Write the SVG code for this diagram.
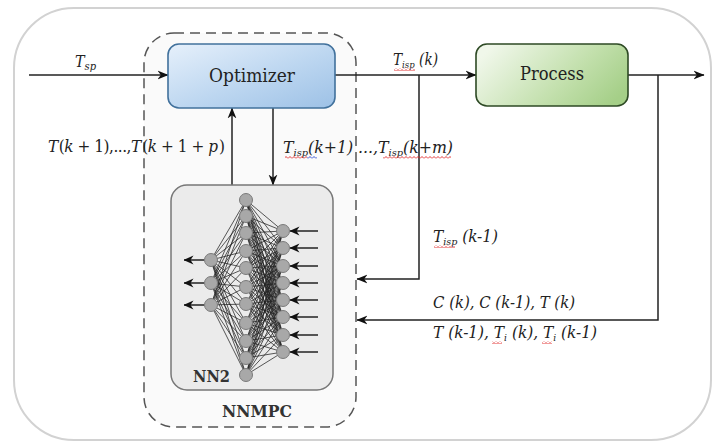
<svg xmlns="http://www.w3.org/2000/svg" width="713" height="443" viewBox="0 0 713 443">
  <defs>
    <linearGradient id="gOpt" x1="0" y1="0" x2="1" y2="1">
      <stop offset="0" stop-color="#e6f0fb"/>
      <stop offset="0.55" stop-color="#bcd6f0"/>
      <stop offset="1" stop-color="#9dc1e6"/>
    </linearGradient>
    <linearGradient id="gProc" x1="0" y1="0.3" x2="1" y2="0.7">
      <stop offset="0" stop-color="#f0f7ea"/>
      <stop offset="0.6" stop-color="#c3e0ad"/>
      <stop offset="1" stop-color="#a5cf88"/>
    </linearGradient>
    <!-- spell-check style wavy underline -->
    <pattern id="wavyRed" x="0" y="0" width="4" height="3" patternUnits="userSpaceOnUse">
      <path d="M0 2.5L2 0.5L4 2.5" fill="none" stroke="#e02020" stroke-width="0.9"/>
    </pattern>
    <pattern id="wavyBlue" x="0" y="0" width="4" height="3" patternUnits="userSpaceOnUse">
      <path d="M0 2.5L2 0.5L4 2.5" fill="none" stroke="#2040d0" stroke-width="0.9"/>
    </pattern>
    <marker id="ah" viewBox="0 0 10 10" refX="9.5" refY="5" markerWidth="11" markerHeight="11" orient="auto" markerUnits="userSpaceOnUse">
      <path d="M0,1 L10,5 L0,9 L3,5 z" fill="#111"/>
    </marker>
    <marker id="ahs" viewBox="0 0 10 10" refX="9.5" refY="5" markerWidth="10" markerHeight="10" orient="auto" markerUnits="userSpaceOnUse">
      <path d="M0,0.5 L10,5 L0,9.5 L3,5 z" fill="#111"/>
    </marker>
  </defs>
  <style>
    text { font-family: "DejaVu Serif Condensed", "DejaVu Serif", serif; fill: #222; }
    .it { font-style: italic; }
    .bold { font-weight: bold; fill: #333; }
    .wire { fill: none; stroke: #222; stroke-width: 1.5; }
    .nnline { fill: none; stroke: #222; stroke-width: 0.75; }
    .neuron { fill: #a8a8a8; stroke: #7a7a7a; stroke-width: 1; }
  </style>

  <rect x="0" y="0" width="713" height="443" fill="#ffffff"/>

  <!-- outer frame -->
  <rect id="frame" x="14" y="8" width="697" height="432" rx="60" ry="60" fill="#ffffff" stroke="#d2d2d2" stroke-width="2"/>

  <!-- NNMPC controller boundary -->
  <g id="nnmpc">
    <rect x="144" y="33" width="212" height="394" rx="30" ry="30" fill="#fafafa" stroke="#555" stroke-width="1.5" stroke-dasharray="10,6"/>
    <text class="bold" x="222" y="417" font-size="16" textLength="70" lengthAdjust="spacingAndGlyphs">NNMPC</text>
  </g>

  <!-- connectors -->
  <g id="connectors">
    <path class="wire" d="M29 75H168" marker-end="url(#ah)"/>
    <path class="wire" d="M335 75H476" marker-end="url(#ah)"/>
    <path class="wire" d="M628 75H704" marker-end="url(#ah)"/>
    <path class="wire" d="M419 75V279H357" marker-end="url(#ah)"/>
    <path class="wire" d="M658 75V320H357" marker-end="url(#ah)"/>
    <path class="wire" d="M232 185V108" marker-end="url(#ah)"/>
    <path class="wire" d="M273 108V185" marker-end="url(#ah)"/>
  </g>

  <!-- optimizer -->
  <g id="optimizer">
    <rect x="168" y="44" width="167" height="64" rx="11" ry="11" fill="url(#gOpt)" stroke="#41719c" stroke-width="1.6"/>
    <text x="209" y="82" font-size="19" textLength="86" lengthAdjust="spacingAndGlyphs">Optimizer</text>
  </g>

  <!-- process -->
  <g id="process">
    <rect x="476" y="44" width="152" height="62" rx="11" ry="11" fill="url(#gProc)" stroke="#2e4a25" stroke-width="1.6"/>
    <text x="520" y="80" font-size="19" textLength="64" lengthAdjust="spacingAndGlyphs">Process</text>
  </g>

  <!-- NN2 neural network model -->
  <g id="nn2">
    <rect x="171" y="185" width="162" height="205" rx="16" ry="16" fill="#ebebeb" stroke="#777" stroke-width="1.5"/>
    <!-- output layer to hidden layer -->
    <path class="nnline" d="M246 200L211 260 246 216M246 233L211 260 246 251M246 268L211 260 246 287M246 304L211 260 246 323M246 341L211 260 246 358M246 375L211 260
      M246 200L211 283 246 216M246 233L211 283 246 251M246 268L211 283 246 287M246 304L211 283 246 323M246 341L211 283 246 358M246 375L211 283
      M246 200L211 305 246 216M246 233L211 305 246 251M246 268L211 305 246 287M246 304L211 305 246 323M246 341L211 305 246 358M246 375L211 305"/>
    <!-- hidden layer to input layer -->
    <path class="nnline" d="M246 200L283 231 246 216M246 233L283 231 246 251M246 268L283 231 246 287M246 304L283 231 246 323M246 341L283 231 246 358M246 375L283 231
      M246 200L283 248 246 216M246 233L283 248 246 251M246 268L283 248 246 287M246 304L283 248 246 323M246 341L283 248 246 358M246 375L283 248
      M246 200L283 266 246 216M246 233L283 266 246 251M246 268L283 266 246 287M246 304L283 266 246 323M246 341L283 266 246 358M246 375L283 266
      M246 200L283 283 246 216M246 233L283 283 246 251M246 268L283 283 246 287M246 304L283 283 246 323M246 341L283 283 246 358M246 375L283 283
      M246 200L283 300 246 216M246 233L283 300 246 251M246 268L283 300 246 287M246 304L283 300 246 323M246 341L283 300 246 358M246 375L283 300
      M246 200L283 317 246 216M246 233L283 317 246 251M246 268L283 317 246 287M246 304L283 317 246 323M246 341L283 317 246 358M246 375L283 317
      M246 200L283 335 246 216M246 233L283 335 246 251M246 268L283 335 246 287M246 304L283 335 246 323M246 341L283 335 246 358M246 375L283 335
      M246 200L283 352 246 216M246 233L283 352 246 251M246 268L283 352 246 287M246 304L283 352 246 323M246 341L283 352 246 358M246 375L283 352"/>
    <!-- input and output arrows -->
    <g class="wire" stroke-width="1.3">
      <path d="M318 231H290" marker-end="url(#ahs)"/>
      <path d="M318 248H290" marker-end="url(#ahs)"/>
      <path d="M318 266H290" marker-end="url(#ahs)"/>
      <path d="M318 283H290" marker-end="url(#ahs)"/>
      <path d="M318 300H290" marker-end="url(#ahs)"/>
      <path d="M318 317H290" marker-end="url(#ahs)"/>
      <path d="M318 335H290" marker-end="url(#ahs)"/>
      <path d="M318 352H290" marker-end="url(#ahs)"/>
      <path d="M204 260H184" marker-end="url(#ahs)"/>
      <path d="M204 283H184" marker-end="url(#ahs)"/>
      <path d="M204 305H184" marker-end="url(#ahs)"/>
    </g>
    <!-- neurons -->
    <g class="neuron">
      <circle cx="211" cy="260" r="6.5"/>
      <circle cx="211" cy="283" r="6.5"/>
      <circle cx="211" cy="305" r="6.5"/>
      <circle cx="246" cy="200" r="6.5"/>
      <circle cx="246" cy="216" r="6.5"/>
      <circle cx="246" cy="233" r="6.5"/>
      <circle cx="246" cy="251" r="6.5"/>
      <circle cx="246" cy="268" r="6.5"/>
      <circle cx="246" cy="287" r="6.5"/>
      <circle cx="246" cy="304" r="6.5"/>
      <circle cx="246" cy="323" r="6.5"/>
      <circle cx="246" cy="341" r="6.5"/>
      <circle cx="246" cy="358" r="6.5"/>
      <circle cx="246" cy="375" r="6.5"/>
      <circle cx="283" cy="231" r="6.5"/>
      <circle cx="283" cy="248" r="6.5"/>
      <circle cx="283" cy="266" r="6.5"/>
      <circle cx="283" cy="283" r="6.5"/>
      <circle cx="283" cy="300" r="6.5"/>
      <circle cx="283" cy="317" r="6.5"/>
      <circle cx="283" cy="335" r="6.5"/>
      <circle cx="283" cy="352" r="6.5"/>
    </g>
    <text class="bold" x="193" y="382" font-size="16" textLength="37" lengthAdjust="spacingAndGlyphs">NN2</text>
  </g>

  <!-- signal labels -->
  <g id="labels">
    <text class="it" x="75" y="67" font-size="16">T<tspan dy="3" font-size="11">sp</tspan></text>
    <text x="48" y="152" font-size="17" textLength="177" lengthAdjust="spacing"><tspan class="it">T</tspan><tspan dx="1">(</tspan><tspan class="it">k</tspan> + 1),...,<tspan class="it">T</tspan><tspan dx="1.5">(</tspan><tspan class="it">k</tspan> + 1 + <tspan class="it">p</tspan><tspan dx="1.5">)</tspan></text>
    <text class="it" x="283" y="153" font-size="16" textLength="170" lengthAdjust="spacingAndGlyphs">T<tspan dy="3" font-size="10">isp</tspan><tspan dy="-3">(k+1) ...,T</tspan><tspan dy="3" font-size="10">isp</tspan><tspan dy="-3">(k+m)</tspan></text>
    <text class="it" x="393" y="65" font-size="16" textLength="45" lengthAdjust="spacingAndGlyphs">T<tspan dy="3" font-size="10">isp</tspan><tspan dy="-3"> (k)</tspan></text>
    <text class="it" x="433" y="242" font-size="16" textLength="65" lengthAdjust="spacingAndGlyphs">T<tspan dy="3" font-size="10">isp</tspan><tspan dy="-3"> (k-1)</tspan></text>
    <text class="it" x="433" y="308" font-size="17" textLength="142" lengthAdjust="spacingAndGlyphs">C (k), C (k-1), T (k)</text>
    <text class="it" x="433" y="338" font-size="17" textLength="164" lengthAdjust="spacingAndGlyphs">T (k-1), T<tspan dy="3" font-size="10">i</tspan><tspan dy="-3"> (k), T</tspan><tspan dy="3" font-size="10">i</tspan><tspan dy="-3"> (k-1)</tspan></text>
  </g>

  <!-- proofing underlines under the subscripted symbols -->
  <g id="underlines">
    <rect x="285" y="156" width="22" height="3" fill="url(#wavyRed)"/>
    <rect x="307" y="156" width="10" height="3" fill="url(#wavyBlue)"/>
    <rect x="383" y="156" width="68" height="3" fill="url(#wavyRed)"/>
    <rect x="394" y="68" width="21" height="3" fill="url(#wavyRed)"/>
    <rect x="434" y="245" width="21" height="3" fill="url(#wavyRed)"/>
    <rect x="492" y="341" width="10" height="3" fill="url(#wavyRed)"/>
    <rect x="542" y="341" width="10" height="3" fill="url(#wavyRed)"/>
  </g>
</svg>
